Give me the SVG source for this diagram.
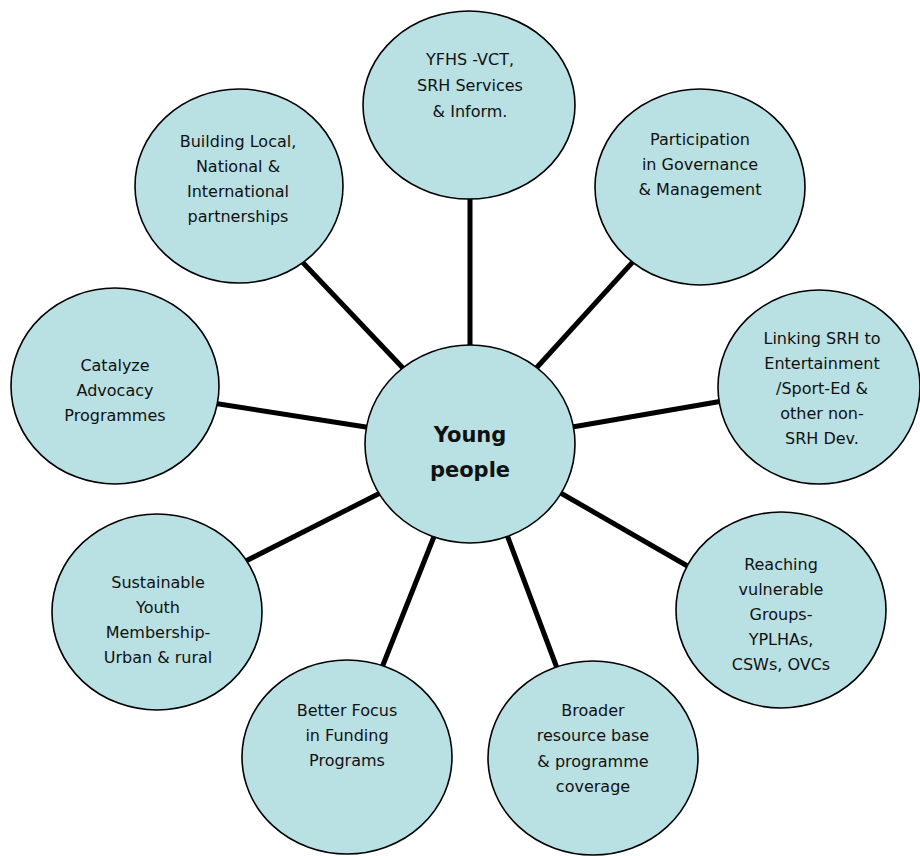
<svg xmlns="http://www.w3.org/2000/svg" width="920" height="856" viewBox="0 0 920 856">
<style>
.node ellipse{fill:#b9e0e3;stroke:#000;stroke-width:1.6}
.conn line{stroke:#000;stroke-width:5;stroke-linecap:butt}
text{font-family:"DejaVu Sans","Noto Sans",sans-serif;font-size:16px;fill:#111;text-anchor:middle}
.big{font-size:21px;font-weight:bold}
</style>
<rect width="920" height="856" fill="#fff"/>
<g id="connectors" class="conn">
<line x1="470" y1="180" x2="470" y2="370"/>
<line x1="290" y1="249" x2="420" y2="386"/>
<line x1="650" y1="243" x2="520" y2="386"/>
<line x1="200" y1="401" x2="385" y2="430"/>
<line x1="555" y1="430" x2="740" y2="398"/>
<line x1="230" y1="569" x2="396" y2="485"/>
<line x1="545" y1="484" x2="710" y2="579"/>
<line x1="377" y1="680" x2="441" y2="519"/>
<line x1="501" y1="519" x2="563" y2="684"/>
</g>
<g id="n-yfhs" class="node"><ellipse cx="469" cy="105" rx="106" ry="94"/>
<text x="470" y="65">YFHS -VCT,</text><text x="470" y="91">SRH Services</text><text x="470" y="117">&amp; Inform.</text></g>
<g id="n-building" class="node"><ellipse cx="239" cy="186" rx="104" ry="97"/>
<text x="238" y="147">Building Local,</text><text x="238" y="172">National &amp;</text><text x="238" y="197">International</text><text x="238" y="222">partnerships</text></g>
<g id="n-participation" class="node"><ellipse cx="700" cy="187" rx="105" ry="98"/>
<text x="700" y="145">Participation</text><text x="700" y="170">in Governance</text><text x="700" y="195">&amp; Management</text></g>
<g id="n-catalyze" class="node"><ellipse cx="115" cy="386" rx="104" ry="98"/>
<text x="115" y="371">Catalyze</text><text x="115" y="396">Advocacy</text><text x="115" y="421">Programmes</text></g>
<g id="n-linking" class="node"><ellipse cx="819" cy="387" rx="101" ry="97"/>
<text x="822" y="344">Linking SRH to</text><text x="822" y="369">Entertainment</text><text x="822" y="394">/Sport-Ed &amp;</text><text x="822" y="419">other non-</text><text x="822" y="444">SRH Dev.</text></g>
<g id="n-young" class="node"><ellipse cx="470" cy="444" rx="105" ry="99"/>
<text class="big" x="470" y="442">Young</text><text class="big" x="470" y="477">people</text></g>
<g id="n-sustainable" class="node"><ellipse cx="157" cy="612" rx="105" ry="98"/>
<text x="158" y="588">Sustainable</text><text x="158" y="613">Youth</text><text x="158" y="638">Membership-</text><text x="158" y="663">Urban &amp; rural</text></g>
<g id="n-reaching" class="node"><ellipse cx="781" cy="610" rx="105" ry="98"/>
<text x="781" y="570">Reaching</text><text x="781" y="595">vulnerable</text><text x="781" y="620">Groups-</text><text x="781" y="645">YPLHAs,</text><text x="781" y="670">CSWs, OVCs</text></g>
<g id="n-better" class="node"><ellipse cx="347" cy="757" rx="105" ry="97"/>
<text x="347" y="716">Better Focus</text><text x="347" y="741">in Funding</text><text x="347" y="766">Programs</text></g>
<g id="n-broader" class="node"><ellipse cx="593" cy="758" rx="105" ry="97"/>
<text x="593" y="716">Broader</text><text x="593" y="741">resource base</text><text x="593" y="767">&amp; programme</text><text x="593" y="792">coverage</text></g>
</svg>
